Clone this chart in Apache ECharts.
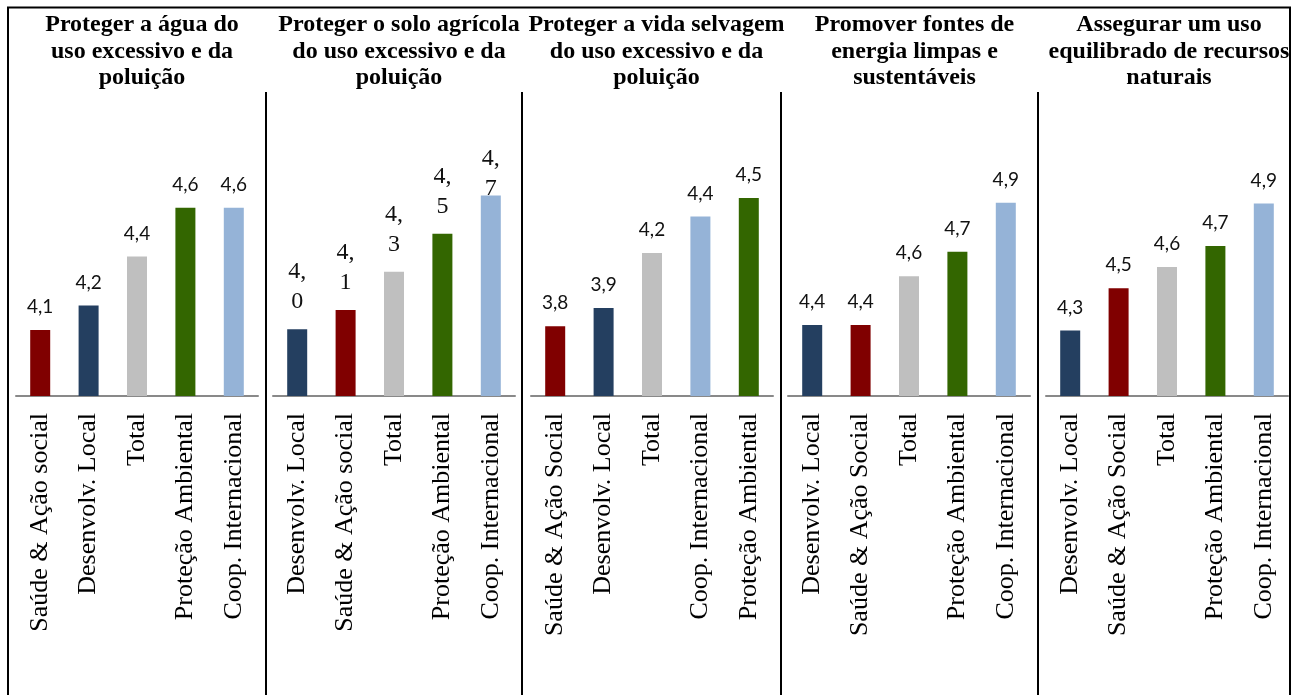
<!DOCTYPE html>
<html>
<head>
<meta charset="utf-8">
<script src="https://cdn.jsdelivr.net/npm/echarts@6/dist/echarts.min.js"></script>
<style>
  html, body { margin: 0; padding: 0; background: #fff; }
  #chart { width: 1296px; height: 695px; }
</style>
</head>
<body>
<div id="chart"></div>
<script>
// Panel titles
const titles = [
  'Proteger a água do\nuso excessivo e da\npoluição',
  'Proteger o solo agrícola\ndo uso excessivo e da\npoluição',
  'Proteger a vida selvagem\ndo uso excessivo e da\npoluição',
  'Promover fontes de\nenergia limpas e\nsustentáveis',
  'Assegurar um uso\nequilibrado de recursos\nnaturais'
];

// Categories per panel (sorted ascending by score)
const categories1 = ['Saúde & Ação social', 'Desenvolv. Local', 'Total', 'Proteção Ambiental', 'Coop. Internacional'];
const categories2 = ['Desenvolv. Local', 'Saúde & Ação social', 'Total', 'Proteção Ambiental', 'Coop. Internacional'];
const categories3 = ['Saúde & Ação Social', 'Desenvolv. Local', 'Total', 'Coop. Internacional', 'Proteção Ambiental'];
const categories4 = ['Desenvolv. Local', 'Saúde & Ação Social', 'Total', 'Proteção Ambiental', 'Coop. Internacional'];
const categories5 = ['Desenvolv. Local', 'Saúde & Ação Social', 'Total', 'Proteção Ambiental', 'Coop. Internacional'];

// Mean scores per panel
const values1 = [4.1, 4.2, 4.4, 4.6, 4.6];
const values2 = [4.0, 4.1, 4.3, 4.5, 4.7];
const values3 = [3.8, 3.9, 4.2, 4.4, 4.5];
const values4 = [4.4, 4.4, 4.6, 4.7, 4.9];
const values5 = [4.3, 4.5, 4.6, 4.7, 4.9];

// Value-axis range of each panel
const axisMin = [3.83, 3.65, 3.42, 4.11, 3.99];
const axisMax = [5.04, 5.20, 5.035, 5.32, 5.39];

const categoryColors = {
  'Saúde & Ação social': '#800000',
  'Saúde & Ação Social': '#800000',
  'Desenvolv. Local': '#243F60',
  'Total': '#BFBFBF',
  'Proteção Ambiental': '#336600',
  'Coop. Internacional': '#95B3D7'
};

const panels = [
  { cats: categories1, vals: values1 },
  { cats: categories2, vals: values2 },
  { cats: categories3, vals: values3 },
  { cats: categories4, vals: values4 },
  { cats: categories5, vals: values5 }
];

// Layout of the five table cells
const cellEdges = [8, 266, 522, 781, 1038, 1290];
const gridLefts = [16, 273, 531, 788, 1046];
const gridWidth = 242;
const gridTop = 100;
const gridHeight = 296;

const fmt = v => v.toFixed(1).replace('.', ',');

const option = {
  backgroundColor: '#ffffff',
  animation: false,
  title: titles.map((t, i) => ({
    text: t,
    left: (cellEdges[i] + cellEdges[i + 1]) / 2,
    top: 7,
    textAlign: 'center',
    textStyle: {
      fontFamily: 'Liberation Serif',
      fontWeight: 'bold',
      fontSize: 24,
      lineHeight: 26.5,
      color: '#000'
    }
  })),
  grid: panels.map((p, i) => ({
    left: gridLefts[i], top: gridTop, width: gridWidth, height: gridHeight
  })),
  xAxis: panels.map((p, i) => ({
    type: 'category',
    gridIndex: i,
    data: p.cats,
    axisLine: { lineStyle: { color: '#898989', width: 2 } },
    axisTick: { show: false },
    axisLabel: {
      interval: 0,
      rotate: 90,
      margin: 17,
      fontFamily: 'Liberation Serif',
      fontSize: 26,
      color: '#000'
    }
  })),
  yAxis: panels.map((p, i) => ({
    type: 'value',
    gridIndex: i,
    min: axisMin[i],
    max: axisMax[i],
    show: false,
    splitLine: { show: false }
  })),
  series: panels.map((p, i) => {
    const serif = i === 1;
    return {
      type: 'bar',
      xAxisIndex: i,
      yAxisIndex: i,
      barWidth: 20,
      clip: true,
      data: p.vals.map((v, j) => {
        const item = { value: v, itemStyle: { color: categoryColors[p.cats[j]] } };
        // the tallest label in the second panel sits pushed down onto the bar
        if (serif && j === p.vals.length - 1) item.label = { offset: [0, 20] };
        return item;
      }),
      label: {
        show: true,
        position: 'top',
        distance: 12,
        color: '#111',
        fontFamily: serif ? 'Liberation Serif' : 'Lato',
        fontSize: serif ? 24 : 19,
        lineHeight: serif ? 30 : 22,
        formatter: serif
          ? (d) => fmt(d.value).replace(',', ',\n')
          : (d) => fmt(d.value)
      }
    };
  }),
  graphic: [
    // outer frame
    { type: 'line', shape: { x1: 7, y1: 7.5, x2: 1291, y2: 7.5 }, style: { stroke: '#000', lineWidth: 2 } },
    { type: 'line', shape: { x1: 8, y1: 7, x2: 8, y2: 695 }, style: { stroke: '#000', lineWidth: 2 } },
    { type: 'line', shape: { x1: 1290, y1: 7, x2: 1290, y2: 695 }, style: { stroke: '#000', lineWidth: 2 } }
  ].concat(cellEdges.slice(1, 5).map(x => ({
    type: 'line',
    shape: { x1: x, y1: 92, x2: x, y2: 695 },
    style: { stroke: '#000', lineWidth: 2 }
  })))
};

const chart = echarts.init(document.getElementById('chart'), null, { renderer: 'canvas' });
chart.setOption(option);
</script>
</body>
</html>
